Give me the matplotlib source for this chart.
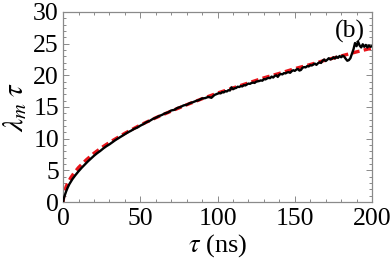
import matplotlib
matplotlib.use("Agg")
import matplotlib.pyplot as plt
from matplotlib.ticker import MultipleLocator

# fitted curve (red dashed)
fit_tau = [0, 0.5, 1, 2, 3, 5, 7, 10, 15, 20, 25, 30, 40, 50, 60, 70, 80, 90,
           100, 110, 120, 130, 140, 150, 160, 170, 180, 190, 200]
fit_val = [0, 1.2, 1.75, 2.45, 3.0, 3.85, 4.55, 5.45, 6.65, 7.7, 8.6, 9.4, 10.85,
           12.15, 13.3, 14.35, 15.35, 16.3, 17.2, 18.0, 18.8, 19.6, 20.3, 21.05,
           21.7, 22.4, 23.05, 23.7, 24.3]

# measured curve (black)
data_tau = [0, 0.5, 1, 2, 3, 4, 6, 8, 10, 12, 14, 16, 18, 20, 22, 24, 26, 28, 30,
            32, 34, 36, 38, 40, 42, 44, 46, 48, 50, 52, 54, 56, 58, 60, 62, 64, 66,
            68, 70, 72, 74, 76, 78, 80, 82, 84, 86, 88, 90, 92, 94, 96, 98, 100,
            101, 102, 103, 104, 105, 106, 107, 108, 109, 110, 111, 112, 113, 114,
            115, 116, 117, 118, 119, 120, 121, 122, 123, 124, 125, 126, 127, 128,
            129, 130, 131, 132, 133, 134, 135, 136, 137, 138, 139, 140, 141, 142,
            143, 144, 145, 146, 147, 148, 149, 150, 151, 152, 153, 154, 155, 156,
            157, 158, 159, 160, 161, 162, 163, 164, 165, 166, 167, 168, 169, 170,
            171, 172, 173, 174, 175, 176, 177, 178, 179, 180, 181, 182, 183, 184,
            185, 186, 187, 188, 189, 190, 191, 192, 193, 194, 195, 196, 197, 198,
            199, 200]
data_val = [0, 0.6, 1.0, 1.7, 2.3, 2.8, 3.6, 4.25, 4.85, 5.4, 5.9, 6.4, 6.85, 7.3,
            7.7, 8.05, 8.45, 8.8, 9.1, 9.45, 9.8, 10.1, 10.4, 10.7, 11.0, 11.25,
            11.55, 11.75, 12.05, 12.3, 12.6, 12.8, 13.1, 13.3, 13.55, 13.75, 14.0,
            14.15, 14.45, 14.55, 14.85, 15.0, 15.25, 15.35, 15.6, 15.75, 15.95, 16.1,
            16.35, 16.4, 16.6, 16.45, 16.9, 17.1,
            17.2, 17.15, 17.35, 17.3, 17.5, 17.45, 17.65, 17.6, 18.1, 17.8, 17.95,
            18.0, 18.2, 18.15, 18.3, 18.25, 18.45, 18.4, 18.55, 18.7, 18.65, 18.8,
            18.85, 18.8, 19.0, 19.05, 19.1, 19.2, 19.15, 19.4, 19.35, 19.5, 19.6,
            19.55, 19.8, 19.65, 19.9, 20.0, 19.75, 20.1, 20.2, 20.15, 20.35, 20.3,
            20.45, 20.5, 20.4, 20.65, 20.8, 20.7, 20.9, 21.0, 20.75, 20.85, 21.2,
            21.3, 21.25, 21.45, 21.4, 21.6, 21.55, 21.7, 21.85, 21.65, 21.9, 22.05,
            21.95, 22.3, 22.5, 22.25, 22.45, 22.7, 22.5, 22.6, 22.85, 22.65, 22.95,
            22.75, 23.05, 22.85, 23.1, 22.95, 22.6, 22.3, 22.4, 22.7, 23.4, 24.1, 25.1,
            24.6, 25.3, 24.7, 24.4, 24.9, 24.5, 24.8, 24.4, 24.7, 24.5, 24.6]

x_major = [0, 50, 100, 150, 200]
y_major = [0, 5, 10, 15, 20, 25, 30]

plt.rcParams['font.family'] = ['Liberation Serif', 'DejaVu Serif']
plt.rcParams['mathtext.fontset'] = 'stix'

fig = plt.figure(figsize=(3.92, 2.66), dpi=100)
ax = fig.add_axes([0.161, 0.2406, 0.788, 0.7144])

ax.plot(fit_tau, fit_val, color='#e8141a', lw=2.4, ls=(0, (2.2, 1.3)), zorder=2)
ax.plot(data_tau, data_val, color='black', lw=1.7, zorder=3)

ax.set_xlim(0, 200)
ax.set_ylim(0, 30)
ax.set_xticks(x_major)
ax.set_yticks(y_major)
ax.xaxis.set_minor_locator(MultipleLocator(10))
ax.yaxis.set_minor_locator(MultipleLocator(1))

frame_col = '#8a8a8a'
for s in ax.spines.values():
    s.set_color(frame_col)
    s.set_linewidth(0.9)
ax.tick_params(which='both', direction='in', top=True, right=True,
               color=frame_col, width=0.7, labelsize=18.5, labelcolor='black')
ax.tick_params(which='major', length=4)
ax.tick_params(axis='x', which='major', pad=4)
ax.tick_params(axis='y', which='major', pad=3)
ax.tick_params(which='minor', length=2.3)

ax.set_xlabel(r'$\tau$ (ns)', fontsize=19, labelpad=2)
ax.set_ylabel(r'$\lambda_m\;\tau$', fontsize=21, labelpad=3)

ax.text(185.8, 27.0, '(b)', fontsize=18.5, ha='center', va='center')

fig.savefig('out.png', dpi=100)
